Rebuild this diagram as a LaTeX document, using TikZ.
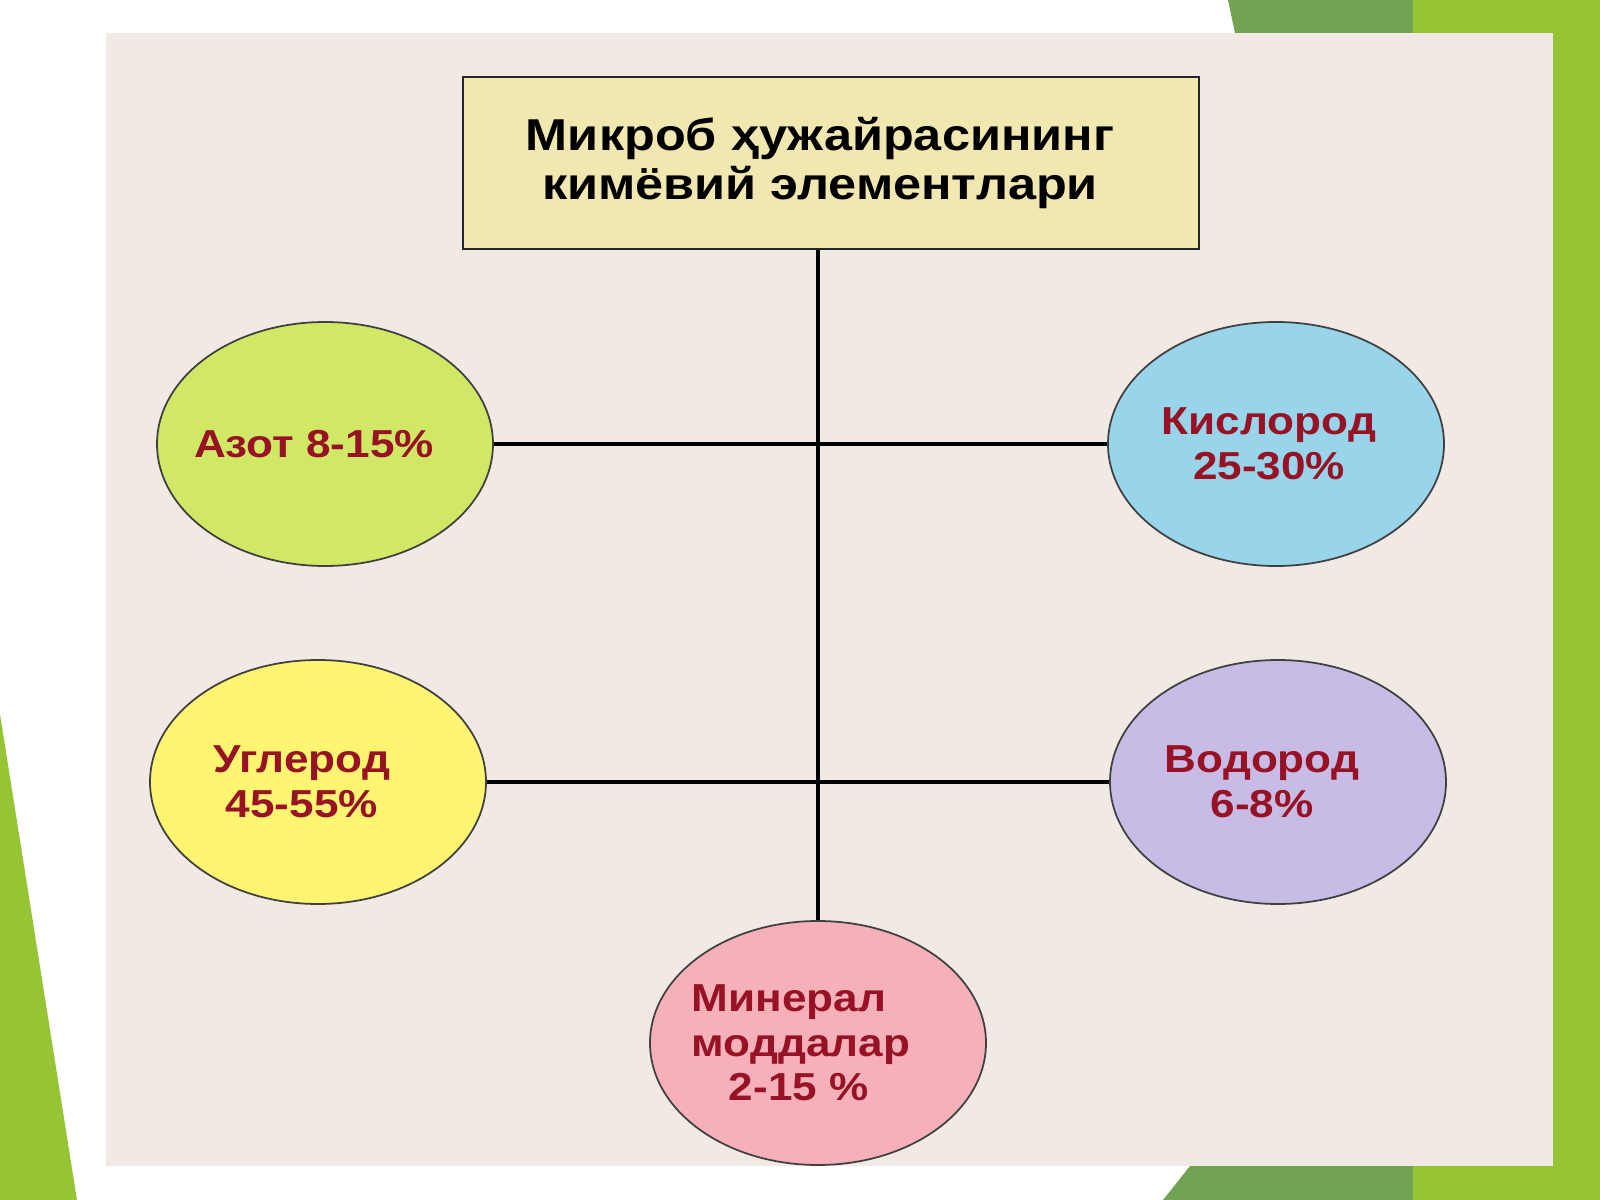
\documentclass[tikz,border=0pt]{standalone}
\usepackage{fontspec}
\setmainfont{Liberation Sans}[FakeStretch=1.13]
\usetikzlibrary{shapes.geometric}
\definecolor{panelbg}{RGB}{240,233,228}
\definecolor{leafdark}{RGB}{112,163,82}
\definecolor{leaflight}{RGB}{150,196,52}
\definecolor{titlefill}{RGB}{241,231,176}
\definecolor{labelred}{RGB}{150,18,36}
\definecolor{azotfill}{RGB}{208,232,102}
\definecolor{kislfill}{RGB}{152,213,234}
\definecolor{uglefill}{RGB}{255,245,112}
\definecolor{vodofill}{RGB}{200,188,230}
\definecolor{minefill}{RGB}{245,176,186}
\tikzset{
  titlebox/.style={draw=black!85, line width=0.8pt, fill=titlefill, align=center,
    minimum width=73.6mm, minimum height=17.2mm, inner sep=0pt,
    font=\fontsize{12.7}{14.2}\selectfont\bfseries},
  elem/.style={ellipse, draw=black!75, line width=0.5pt, inner sep=0pt,
    minimum width=33.6mm, minimum height=24.4mm, text=labelred, align=center,
    font=\fontsize{11.1}{12.7}\selectfont\bfseries},
  link/.style={line width=1.1pt, black}
}
\begin{document}
\begin{tikzpicture}[x=0.1mm, y=-0.1mm]
\useasboundingbox (0,0) rectangle (1600,1200);
% slide frame: green strips round the panel
\fill[leafdark] (1228,0) -- (1600,0) -- (1600,33) -- (1235,33) -- cycle;
\fill[leaflight] (1413,0) rectangle (1600,33);
\fill[leaflight] (1553,0) rectangle (1600,1200);
\fill[leafdark] (1190,1166) -- (1600,1166) -- (1600,1200) -- (1163,1200) -- cycle;
\fill[leaflight] (1413,1166) rectangle (1600,1200);
\fill[leaflight] (0,714) -- (77,1200) -- (0,1200) -- cycle;
\fill[panelbg] (106,33) rectangle (1553,1166);
% heading
\node[titlebox] (title) at (831,163)
  {\hspace*{-2.2mm}Микроб ҳужайрасининг\\\hspace*{-2.2mm}кимёвий элементлари};
% elements, left and right
\node[elem, fill=azotfill] (azot) at (325,444) {\hspace*{-2.2mm}Азот 8-15\%};
\node[elem, fill=kislfill] (kislorod) at (1276,444)
  {\hspace*{-1.4mm}Кислород\\\hspace*{-1.4mm}25-30\%};
\node[elem, fill=uglefill, align=left] (uglerod) at (318,782)
  {\hspace*{-3.2mm}Углерод\\\hspace*{-2mm}45-55\%};
\node[elem, fill=vodofill] (vodorod) at (1278,782)
  {\hspace*{-3.2mm}Водород\\\hspace*{-3.2mm}6-8\%};
\node[elem, fill=minefill, align=left] (mineral) at (818,1043)
  {\hspace*{-3.4mm}Минерал\\\hspace*{-3.4mm}моддалар\\\hspace*{0.3mm}2-15 \%};
% connectors
\draw[link] (title.south -| mineral.north) -- (mineral.north);
\draw[link] (azot.east) -- (kislorod.west);
\draw[link] (uglerod.east) -- (vodorod.west);
\end{tikzpicture}
\end{document}
